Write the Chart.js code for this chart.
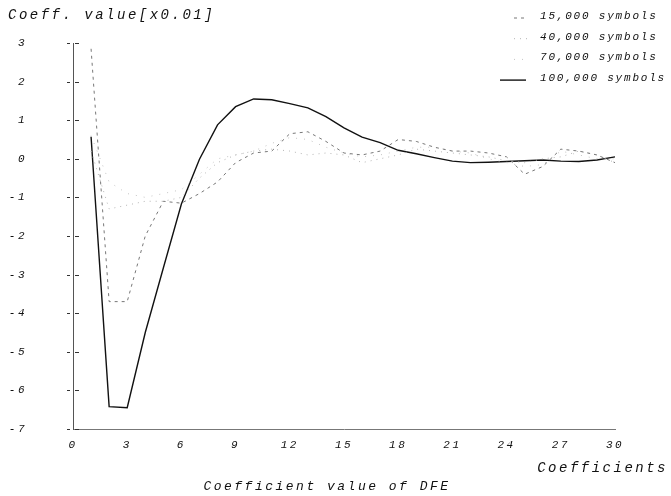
<!DOCTYPE html>
<html><head><meta charset="utf-8">
<script src="https://cdn.jsdelivr.net/npm/chart.js@4/dist/chart.umd.min.js"></script>
<style>html,body{margin:0;padding:0;background:#fff;}canvas{display:block;}</style>
</head><body>
<canvas id="c" width="671" height="496"></canvas>
<script>
// ---- data ----
const coefficientIndex = [1,2,3,4,5,6,7,8,9,10,11,12,13,14,15,16,17,18,19,20,21,22,23,24,25,26,27,28,29,30];
const symbols15k  = [2.85,-3.7,-3.7,-2.0,-1.1,-1.15,-0.9,-0.6,-0.1,0.15,0.2,0.65,0.7,0.45,0.15,0.1,0.2,0.5,0.45,0.3,0.2,0.2,0.15,0.05,-0.4,-0.2,0.25,0.2,0.1,-0.1];
const symbols40k  = [0.2,-1.3,-1.2,-1.1,-1.1,-1.0,-0.5,-0.1,0.1,0.2,0.25,0.2,0.1,0.15,0.1,-0.1,0.0,0.1,0.25,0.2,0.15,0.1,0.05,-0.05,-0.1,0.0,0.05,0.2,0.1,-0.1];
const symbols70k  = [0.6,-0.6,-0.9,-1.0,-0.9,-0.8,-0.4,0.0,0.1,0.2,0.4,0.55,0.5,0.3,0.15,0.05,0.1,0.2,0.3,0.3,0.2,0.15,0.0,-0.1,-0.2,-0.15,0.2,0.1,0.0,0.0];
const symbols100k = [0.57,-6.42,-6.45,-4.5,-2.83,-1.17,-0.01,0.88,1.35,1.55,1.53,1.43,1.32,1.09,0.80,0.56,0.42,0.22,0.13,0.03,-0.06,-0.10,-0.09,-0.07,-0.05,-0.03,-0.06,-0.07,-0.03,0.05];
const seriesLabels = ['15,000 symbols','40,000 symbols','70,000 symbols','100,000 symbols'];
const xTickStep = 3, xMin = 0, xMax = 30;
const yMin = -7, yMax = 3;
const yAxisTitle = 'Coeff. value[x0.01]';
const xAxisTitle = 'Coefficients';
const chartCaption = 'Coefficient value of DFE';

const FONT = "'Liberation Mono', 'DejaVu Sans Mono', monospace";
const SPACING = '2.5px';

function pts(arr){ return coefficientIndex.map((x,i)=>({x:x, y:arr[i]})); }

const styles = [
  {color:'#777', width:1, dash:[3,4]},
  {color:'#b4b4b4', width:1, dash:[1,5]},
  {color:'#c4c4c4', width:1, dash:[1,7]},
  {color:'#111', width:1.4, dash:[]}
];
const allSeries = [symbols15k, symbols40k, symbols70k, symbols100k];

const spacingPlugin = {
  id:'spacing',
  beforeLayout(chart){ chart.ctx.letterSpacing = SPACING; },
  beforeDraw(chart){ chart.ctx.letterSpacing = SPACING; }
};

const decorPlugin = {
  id:'decor',
  afterDraw(chart){
    const ctx = chart.ctx;
    const ys = chart.scales.y, xs = chart.scales.x;
    ctx.save();
    ctx.letterSpacing = SPACING;
    // y tick dashes on both sides of the axis
    ctx.strokeStyle = '#333'; ctx.lineWidth = 1;
    const ax = xs.getPixelForValue(xMin);
    for (let v = yMin; v <= yMax; v++) {
      const py = Math.round(ys.getPixelForValue(v)) + 0.5;
      ctx.beginPath();
      ctx.moveTo(ax - 6, py); ctx.lineTo(ax - 3, py);
      ctx.moveTo(ax + 2, py); ctx.lineTo(ax + 6, py);
      ctx.stroke();
    }
    // texts
    ctx.fillStyle = '#111';
    ctx.textBaseline = 'middle';
    ctx.font = 'italic 14px ' + FONT;
    ctx.textAlign = 'left';
    ctx.fillText(yAxisTitle, 8, 15);
    ctx.textAlign = 'right';
    ctx.fillText(xAxisTitle, 668, 468);
    ctx.font = 'italic 13px ' + FONT;
    ctx.textAlign = 'center';
    ctx.fillText(chartCaption, 327, 487);
    // legend
    ctx.letterSpacing = '1.8px';
    ctx.font = 'italic 11px ' + FONT;
    ctx.textAlign = 'left';
    chart.data.datasets.forEach((ds, i) => {
      const ry = 16 + i * 20.7;
      ctx.fillStyle = '#111';
      ctx.fillText(ds.label, 540, ry);
      ctx.strokeStyle = ds.borderColor;
      ctx.lineWidth = ds.borderWidth;
      ctx.setLineDash(ds.borderDash);
      ctx.beginPath();
      if (i === 3) { ctx.moveTo(500, ry + 2); ctx.lineTo(526, ry + 2); }
      else { ctx.moveTo(514, ry + 2); ctx.lineTo(528, ry + 2); }
      ctx.stroke();
      ctx.setLineDash([]);
    });
    ctx.restore();
  }
};

new Chart(document.getElementById('c'), {
  type:'line',
  data:{
    datasets: allSeries.map((s,i)=>({
      label: seriesLabels[i],
      data: pts(s),
      borderColor: styles[i].color,
      borderWidth: styles[i].width,
      borderDash: styles[i].dash,
      pointRadius: 0,
      tension: 0,
      fill: false
    }))
  },
  options:{
    responsive:false,
    animation:false,
    devicePixelRatio:1,
    layout:{padding:{top:43,left:0,right:56,bottom:37}},
    plugins:{legend:{display:false}, title:{display:false}, tooltip:{enabled:false}},
    scales:{
      x:{
        type:'linear', min:xMin, max:xMax,
        afterFit(s){ s.height = 30; },
        grid:{display:true, drawOnChartArea:false, drawTicks:false},
        border:{display:true, color:'#777', dash:[2,4], width:1},
        ticks:{stepSize:xTickStep, padding:9, color:'#111', maxRotation:0,
               font:{family:FONT, size:11, style:'italic'}}
      },
      y:{
        min:yMin, max:yMax,
        afterFit(s){ s.width = 73; s.paddingTop = 0; s.paddingBottom = 0; },
        grid:{display:true, drawOnChartArea:false, drawTicks:false},
        border:{display:true, color:'#555', dash:[1,3], width:1},
        ticks:{stepSize:1, padding:46, color:'#111',
               font:{family:FONT, size:11, style:'italic'}}
      }
    }
  },
  plugins:[spacingPlugin, decorPlugin]
});
</script>
</body></html>
